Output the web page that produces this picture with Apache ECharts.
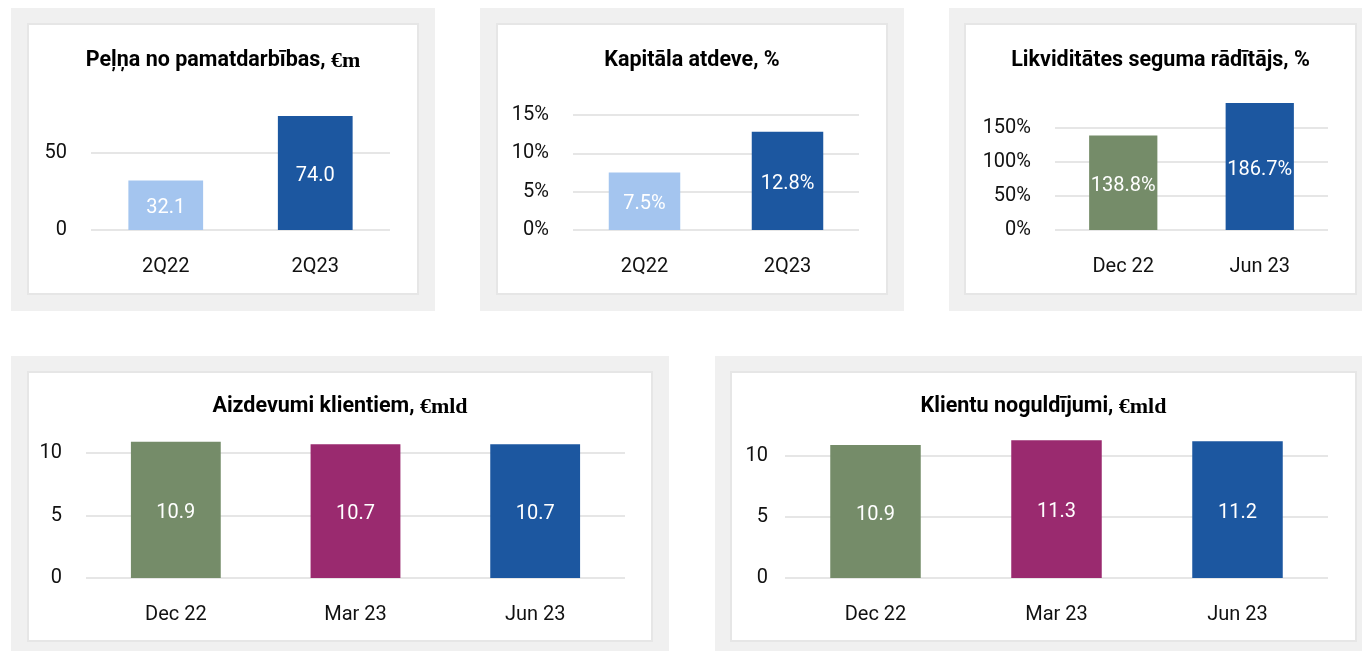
<!DOCTYPE html>
<html>
<head>
<meta charset="utf-8">
<title>Rādītāji</title>
<script src="https://cdn.jsdelivr.net/npm/echarts@6/dist/echarts.min.js"></script>
<style>
  body { margin: 0; width: 1362px; height: 651px; background: #fff; position: relative; overflow: hidden; }
  .panel { position: absolute; background: #f0f0f0; }
  .inner { position: absolute; box-sizing: border-box; border: 2px solid #e6e6e6; background: #fff; }
  .chart { width: 100%; height: 100%; }
</style>
</head>
<body>
<div class="panel" style="left:11px;top:8px;width:424px;height:303px">
  <div class="inner" style="left:16px;top:15px;width:392px;height:272px"><div class="chart" id="c1"></div></div>
</div>
<div class="panel" style="left:480px;top:8px;width:424px;height:303px">
  <div class="inner" style="left:16px;top:15px;width:392px;height:272px"><div class="chart" id="c2"></div></div>
</div>
<div class="panel" style="left:949px;top:8px;width:430px;height:303px">
  <div class="inner" style="left:15px;top:15px;width:393px;height:272px"><div class="chart" id="c3"></div></div>
</div>
<div class="panel" style="left:11px;top:356px;width:658px;height:300px">
  <div class="inner" style="left:16px;top:15px;width:626px;height:271px"><div class="chart" id="c4"></div></div>
</div>
<div class="panel" style="left:715px;top:356px;width:660px;height:300px">
  <div class="inner" style="left:15px;top:15px;width:627px;height:271px"><div class="chart" id="c5"></div></div>
</div>

<script>
// data
var p1Categories = ['2Q22', '2Q23'];
var p1Values = [32.1, 74.0];
var p1Ticks = [0, 50];

var p2Categories = ['2Q22', '2Q23'];
var p2Values = [7.5, 12.8];
var p2Ticks = [0, 5, 10, 15];

var p3Categories = ['Dec 22', 'Jun 23'];
var p3Values = [138.8, 186.7];
var p3Ticks = [0, 50, 100, 150];

var p4Categories = ['Dec 22', 'Mar 23', 'Jun 23'];
var p4Values = [10.9, 10.7, 10.7];
var p4Ticks = [0, 5, 10];

var p5Categories = ['Dec 22', 'Mar 23', 'Jun 23'];
var p5Values = [10.9, 11.3, 11.2];
var p5Ticks = [0, 5, 10];

// colours
var LIGHT_BLUE = '#a4c5ef';
var BLUE = '#1c57a0';
var GREEN = '#758c69';
var PURPLE = '#9a2a6f';

var FONT = 'Roboto, "Noto Sans", sans-serif';

function drawPanel (id, cfg) {
  var chart = echarts.init(document.getElementById(id));
  var step = cfg.ticks[1] - cfg.ticks[0];
  var lastTick = cfg.ticks[cfg.ticks.length - 1];
  var option = {
    animation: false,
    title: {
      text: '{t|' + cfg.title + '}{s|' + cfg.unit + '}',
      left: 'center',
      top: cfg.titleTop,
      padding: 0,
      textStyle: {
        rich: {
          t: { fontFamily: FONT, fontWeight: 'bold', fontSize: 21.5, color: '#000' },
          s: { fontFamily: '"Liberation Serif", serif', fontWeight: 'bold', fontSize: 22, color: '#000' }
        }
      }
    },
    grid: cfg.grid,
    xAxis: {
      type: 'category',
      data: cfg.categories,
      axisLine: { show: false },
      axisTick: { show: false },
      axisLabel: { color: '#111', fontFamily: FONT, fontSize: 20, margin: 27 }
    },
    yAxis: {
      type: 'value',
      min: 0,
      max: cfg.max,
      interval: step,
      axisLine: { show: false },
      axisTick: { show: false },
      axisLabel: {
        color: '#111', fontFamily: FONT, fontSize: 20, margin: cfg.labelMargin,
        padding: [7, 0, 0, 0],
        showMaxLabel: cfg.max === lastTick,
        formatter: function (v) { return v + cfg.suffix; }
      },
      splitLine: {
        showMaxLine: cfg.max === lastTick,
        lineStyle: { color: '#e6e6e6', width: 2 }
      }
    },
    series: [{
      type: 'bar',
      barWidth: '50%',
      data: cfg.values.map(function (v, i) {
        return { value: v, itemStyle: { color: cfg.colors[i] } };
      }),
      label: {
        show: true,
        position: 'inside',
        offset: [0, 3],
        color: '#fff',
        fontFamily: FONT,
        fontSize: 20,
        formatter: function (p) { return p.value.toFixed(1) + cfg.suffix; }
      }
    }]
  };
  chart.setOption(option);
}

drawPanel('c1', {
  title: 'Peļņa no pamatdarbības, ', unit: '€m', titleTop: 25,
  categories: p1Categories, values: p1Values, ticks: p1Ticks, max: 100, suffix: '',
  colors: [LIGHT_BLUE, BLUE], labelMargin: 24,
  grid: { left: 62, right: 27, top: 51, bottom: 63 }
});
drawPanel('c2', {
  title: 'Kapitāla atdeve, %', unit: '', titleTop: 25,
  categories: p2Categories, values: p2Values, ticks: p2Ticks, max: 15, suffix: '%',
  colors: [LIGHT_BLUE, BLUE], labelMargin: 24,
  grid: { left: 75, right: 27, top: 90, bottom: 63 }
});
drawPanel('c3', {
  title: 'Likviditātes seguma rādītājs, %', unit: '', titleTop: 25,
  categories: p3Categories, values: p3Values, ticks: p3Ticks, max: 200, suffix: '%',
  colors: [GREEN, BLUE], labelMargin: 24,
  grid: { left: 89, right: 27, top: 69, bottom: 63 }
});
drawPanel('c4', {
  title: 'Aizdevumi klientiem, ', unit: '€mld', titleTop: 23,
  categories: p4Categories, values: p4Values, ticks: p4Ticks, max: 15, suffix: '',
  colors: [GREEN, PURPLE, BLUE], labelMargin: 24,
  grid: { left: 57, right: 26, top: 17.5, bottom: 62 }
});
drawPanel('c5', {
  title: 'Klientu noguldījumi, ', unit: '€mld', titleTop: 23,
  categories: p5Categories, values: p5Values, ticks: p5Ticks, max: 15, suffix: '',
  colors: [GREEN, PURPLE, BLUE], labelMargin: 17,
  grid: { left: 53, right: 27, top: 22, bottom: 62 }
});
</script>
</body>
</html>
